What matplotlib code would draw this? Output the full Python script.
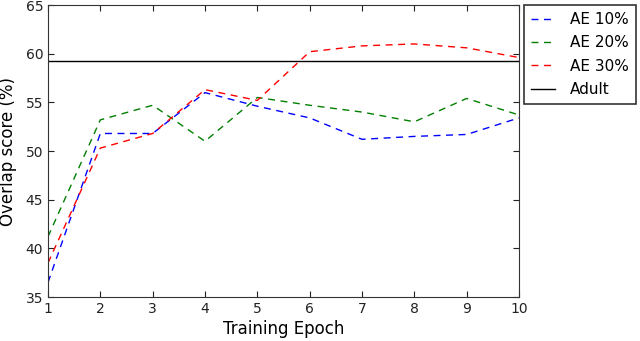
import matplotlib
matplotlib.use('Agg')
import matplotlib.pyplot as plt

# Data
epochs = [1, 2, 3, 4, 5, 6, 7, 8, 9, 10]
ae10 = [36.5, 51.8, 51.8, 56.0, 54.6, 53.4, 51.2, 51.5, 51.7, 53.4]
ae20 = [41.2, 53.2, 54.7, 51.0, 55.5, 54.7, 54.0, 53.0, 55.4, 53.7]
ae30 = [38.5, 50.3, 51.8, 56.3, 55.2, 60.2, 60.8, 61.0, 60.6, 59.6]
adult = 59.25

fig = plt.figure(figsize=(6.4, 3.41), dpi=100)
ax = fig.add_axes([48 / 640, 44 / 341, 471 / 640, 292 / 341])

dash = (5, 4)
ax.plot(epochs, ae10, color='blue', linestyle='--', dashes=dash, linewidth=1, label='AE 10%')
ax.plot(epochs, ae20, color='green', linestyle='--', dashes=dash, linewidth=1, label='AE 20%')
ax.plot(epochs, ae30, color='red', linestyle='--', dashes=dash, linewidth=1, label='AE 30%')
ax.axhline(adult, color='black', linewidth=1, label='Adult')

ax.set_xlim(1, 10)
ax.set_ylim(35, 65)
ax.set_xticks(epochs)
ax.set_yticks(range(35, 66, 5))
ax.tick_params(direction='in', top=True, right=True, labelsize=10, length=4, colors='#222222')
for s in ax.spines.values():
    s.set_color('#333333')
ax.set_xlabel('Training Epoch', fontsize=12, labelpad=3)
ax.set_ylabel('Overlap score (%)', fontsize=12, labelpad=6)

leg = ax.legend(loc='upper left', bbox_to_anchor=(1.01, 1.0), fontsize=11,
                frameon=True, fancybox=False, handlelength=1.6, handletextpad=1.0,
                labelspacing=0.55, borderpad=0.45, borderaxespad=0)
leg.get_frame().set_edgecolor('black')
leg.get_frame().set_linewidth(1.2)

fig.savefig('out.png', dpi=100)
